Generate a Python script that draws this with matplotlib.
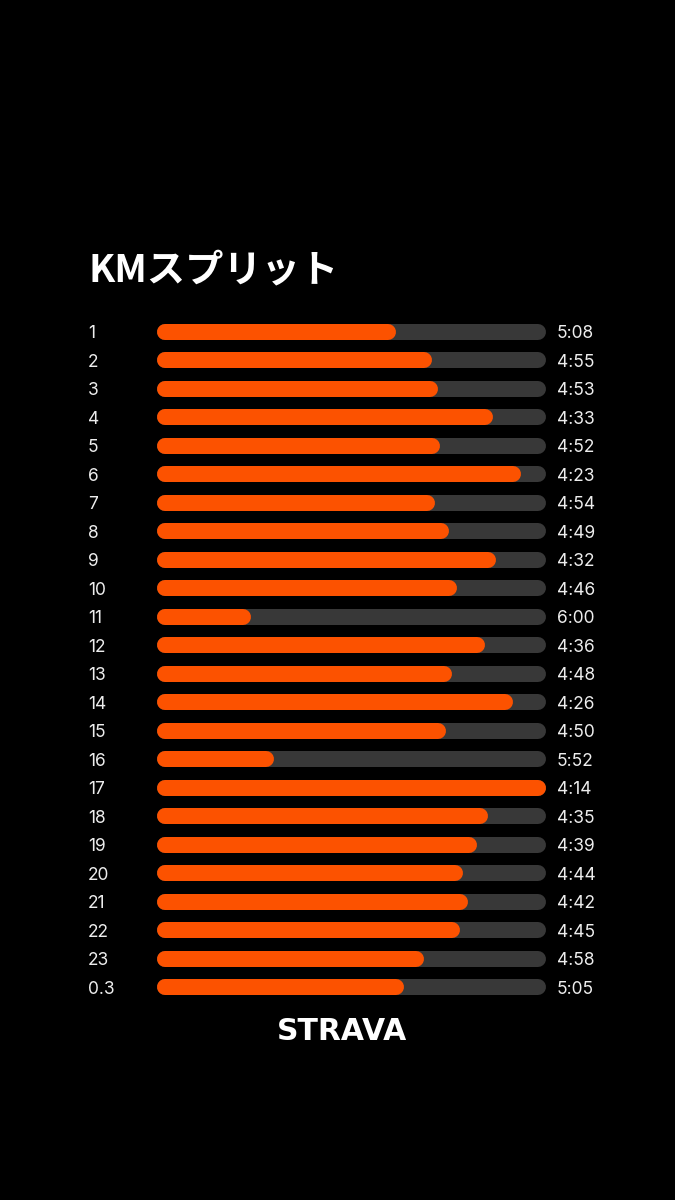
"""Strava style KM split chart: pace per kilometre as rounded bars."""

import matplotlib.pyplot as plt
from matplotlib.transforms import blended_transform_factory

# Split labels and pace (min:sec per km) as shown on the chart.
split_labels = ["1", "2", "3", "4", "5", "6", "7", "8", "9", "10", "11", "12",
                "13", "14", "15", "16", "17", "18", "19", "20", "21", "22", "23", "0.3"]
pace_labels = ["5:08", "4:55", "4:53", "4:33", "4:52", "4:23", "4:54", "4:49",
               "4:32", "4:46", "6:00", "4:36", "4:48", "4:26", "4:50", "5:52",
               "4:14", "4:35", "4:39", "4:44", "4:42", "4:45", "4:58", "5:05"]

BG = "#000000"
ORANGE = "#FC5200"
TRACK = "#383838"
TEXT = "#EDEDED"

# Bar length grows as pace gets faster; a pace of PACE_FLOOR seconds gives zero length.
PACE_FLOOR = 394


def to_seconds(label):
	m, s = label.split(":")
	return int(m) * 60 + int(s)


pace_sec = [to_seconds(p) for p in pace_labels]
bar_values = [PACE_FLOOR - s for s in pace_sec]
vmax = max(bar_values)

W, H = 675, 1200
fig = plt.figure(figsize=(W / 100, H / 100), dpi=100)
fig.patch.set_facecolor(BG)

# Axes placed in pixel terms: track spans x 157..546, rows centred from y 332 to 987.
n = len(split_labels)
row_gap = (987 - 332) / (n - 1)
top_px = 332 - row_gap / 2
bot_px = 987 + row_gap / 2
x0_px, x1_px = 157, 546
ax = fig.add_axes([x0_px / W, 1 - bot_px / H, (x1_px - x0_px) / W, (bot_px - top_px) / H])
ax.set_facecolor(BG)
ax.set_xlim(0, vmax)
ax.set_ylim(n - 0.5, -0.5)
ax.axis("off")

bar_px = 16
lw = bar_px * 72 / 100
cap = (bar_px / 2) / (x1_px - x0_px) * vmax

for i, v in enumerate(bar_values):
	ax.plot([cap, vmax - cap], [i, i], color=TRACK, lw=lw, solid_capstyle="round")
	ax.plot([cap, max(v - cap, cap)], [i, i], color=ORANGE, lw=lw, solid_capstyle="round")

trans = blended_transform_factory(fig.transFigure, ax.transData)
num_font = ["Inter", "DejaVu Sans"]
for i, (lab, pace) in enumerate(zip(split_labels, pace_labels)):
	ax.text(88 / W, i, lab, transform=trans, ha="left", va="center_baseline",
		color=TEXT, fontsize=12.5, family=num_font)
	ax.text(557 / W, i, pace, transform=trans, ha="left", va="center_baseline",
		color=TEXT, fontsize=12.5, family=num_font)

fig.text(89 / W, 1 - 266 / H, "KMスプリット", ha="left", va="center_baseline", color="white",
	fontsize=27.5, fontweight="bold", family=["Noto Sans CJK JP", "DejaVu Sans"])

fig.text(342 / W, 1 - 1028 / H, "STRAVA", ha="center", va="center_baseline", color="white",
	fontsize=21.5, fontweight="heavy", family=["DejaVu Sans"])

fig.savefig("out.png", dpi=100, facecolor=BG)
